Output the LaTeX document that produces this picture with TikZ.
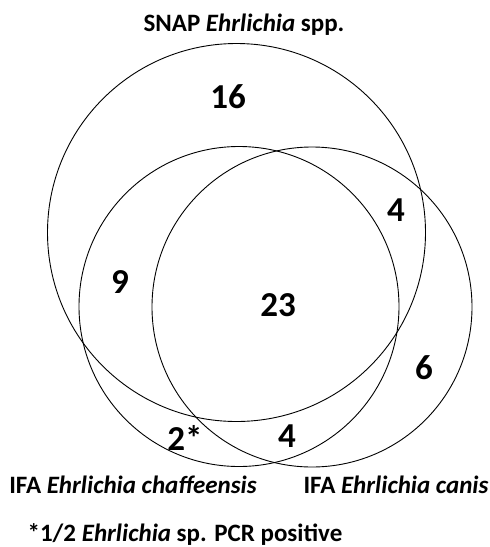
\documentclass[tikz,border=0pt]{standalone}
\usepackage{fontspec}
\setmainfont{Carlito}
\begin{document}
\begin{tikzpicture}[x=1pt,y=-1pt,
  ring/.style={draw=black,line width=0.9pt},
  num/.style={font=\fontsize{35}{40}\selectfont\bfseries,inner sep=0pt},
  lab/.style={font=\fontsize{25}{30}\selectfont\bfseries,inner sep=0pt,anchor=base}]
\useasboundingbox[fill=white] (0,0) rectangle (490,547);
\draw[ring] (236.5,232.5) circle (189);
\draw[ring] (239,306.5) circle (160);
\draw[ring] (312,307) circle (160);
\node[lab] (snap) at (244,31) {SNAP \textit{Ehrlichia} spp.};
\node[num] (n16) at (228,97) {16};
\node[num] (n4a) at (396,210) {4};
\node[num] (n9) at (120,282) {9};
\node[num] (n23) at (278,305) {23};
\node[num] (n6) at (424,368) {6};
\node[num] (n2) at (185,438) {2*};
\node[num] (n4b) at (287,436) {4};
\node[lab] (chaf) at (133,493) {IFA \textit{Ehrlichia chaffeensis}};
\node[lab] (canis) at (396,493) {IFA \textit{Ehrlichia canis}};
\node[lab] (foot) at (185,541) {*1/2 \textit{Ehrlichia} sp. PCR positive};
\end{tikzpicture}
\end{document}
